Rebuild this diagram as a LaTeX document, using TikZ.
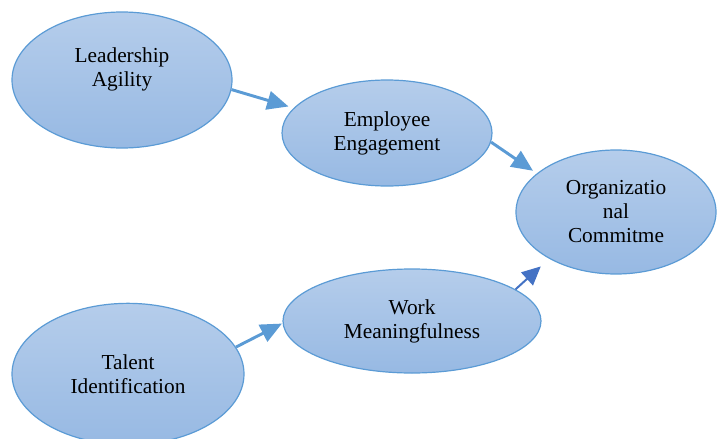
\documentclass[tikz,border=0pt]{standalone}
\usepackage{fontspec}
\setmainfont{Liberation Serif}
\usetikzlibrary{shapes.geometric,arrows.meta}
\definecolor{edgeblue}{HTML}{5B9BD5}
\definecolor{darkarrow}{HTML}{4472C4}
\definecolor{filltop}{HTML}{B5CDEB}
\definecolor{fillbot}{HTML}{97B9E3}
\tikzset{
  oval/.style={ellipse, draw=edgeblue, line width=0.9pt, top color=filltop, bottom color=fillbot, inner sep=0pt},
  lbl/.style={align=center, font=\fontsize{16}{18}\selectfont, text=black},
  conn/.style={draw=edgeblue, line width=2.2pt, -{Triangle[length=16pt,width=14pt]}},
  conndark/.style={draw=darkarrow, line width=1.5pt, -{Triangle[length=14pt,width=13pt]}}
}
\begin{document}
\begin{tikzpicture}[x=0.75pt,y=-0.75pt]
\useasboundingbox (0,0) rectangle (721,439);
\node[oval, minimum width=165pt, minimum height=102pt] (la) at (122,80) {};
\node[lbl] (latext) at (122,69) {Leadership\\Agility};
\node[oval, minimum width=157.5pt, minimum height=79.5pt, lbl] (ee) at (387,133) {Employee\\Engagement};
\node[oval, minimum width=150pt, minimum height=93pt, lbl] (oc) at (616,212) {Organizatio\\nal\\Commitme};
\node[oval, minimum width=174pt, minimum height=106pt, lbl] (ti) at (128,374) {Talent\\Identification};
\node[oval, minimum width=193.5pt, minimum height=78pt, lbl] (wm) at (412,321) {Work\\Meaningfulness};
\draw[conn, shorten >=4pt] (la.-5) -- (ee.165);
\draw[conn, shorten >=3.5pt] (ee.-5) -- (oc.154);
\draw[conndark, shorten >=8.5pt] (wm.17) -- (oc.-145);
\draw[conn, shorten >=0.5pt] (ti.14) -- (wm.181);
\end{tikzpicture}
\end{document}
